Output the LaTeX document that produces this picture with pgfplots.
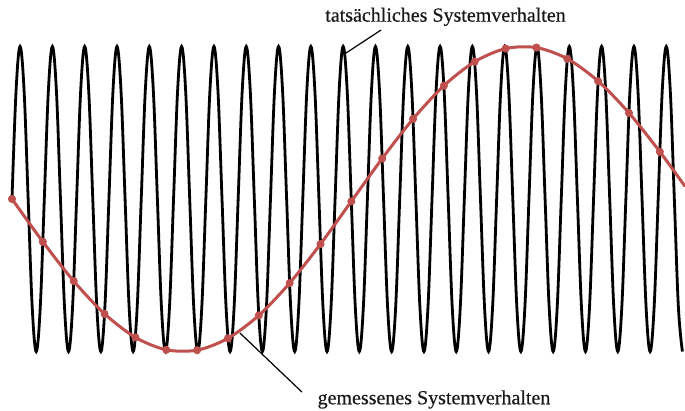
\documentclass[border=0pt]{standalone}
\usepackage{fontspec}
\setmainfont{Liberation Serif}
\newfontfamily\labfont{Liberation Serif}[FakeBold=0.4]
\usepackage{pgfplots}
\pgfplotsset{compat=1.18}
\definecolor{samplered}{RGB}{192,80,77}
\begin{document}
\begin{tikzpicture}
\begin{axis}[
  hide axis, scale only axis,
  width=342.5pt, height=205.5pt,
  xmin=-2.971, xmax=166.64,
  ymin=-1.390, ymax=1.305,
  clip=true,
]
\path (rel axis cs:0,0) rectangle (rel axis cs:1,1);
% actual signal (black)
\addplot[black, line width=1.4pt, smooth, tension=0.6] coordinates {
(0,0) (1,0.7071) (2,1) (3,0.7071) (4,0) (5,-0.7071) (6,-1) (7,-0.7071)
(8,0) (9,0.7071) (10,1) (11,0.7071) (12,0) (13,-0.7071) (14,-1) (15,-0.7071)
(16,0) (17,0.7071) (18,1) (19,0.7071) (20,0) (21,-0.7071) (22,-1) (23,-0.7071)
(24,0) (25,0.7071) (26,1) (27,0.7071) (28,0) (29,-0.7071) (30,-1) (31,-0.7071)
(32,0) (33,0.7071) (34,1) (35,0.7071) (36,0) (37,-0.7071) (38,-1) (39,-0.7071)
(40,0) (41,0.7071) (42,1) (43,0.7071) (44,0) (45,-0.7071) (46,-1) (47,-0.7071)
(48,0) (49,0.7071) (50,1) (51,0.7071) (52,0) (53,-0.7071) (54,-1) (55,-0.7071)
(56,0) (57,0.7071) (58,1) (59,0.7071) (60,0) (61,-0.7071) (62,-1) (63,-0.7071)
(64,0) (65,0.7071) (66,1) (67,0.7071) (68,0) (69,-0.7071) (70,-1) (71,-0.7071)
(72,0) (73,0.7071) (74,1) (75,0.7071) (76,0) (77,-0.7071) (78,-1) (79,-0.7071)
(80,0) (81,0.7071) (82,1) (83,0.7071) (84,0) (85,-0.7071) (86,-1) (87,-0.7071)
(88,0) (89,0.7071) (90,1) (91,0.7071) (92,0) (93,-0.7071) (94,-1) (95,-0.7071)
(96,0) (97,0.7071) (98,1) (99,0.7071) (100,0) (101,-0.7071) (102,-1) (103,-0.7071)
(104,0) (105,0.7071) (106,1) (107,0.7071) (108,0) (109,-0.7071) (110,-1) (111,-0.7071)
(112,0) (113,0.7071) (114,1) (115,0.7071) (116,0) (117,-0.7071) (118,-1) (119,-0.7071)
(120,0) (121,0.7071) (122,1) (123,0.7071) (124,0) (125,-0.7071) (126,-1) (127,-0.7071)
(128,0) (129,0.7071) (130,1) (131,0.7071) (132,0) (133,-0.7071) (134,-1) (135,-0.7071)
(136,0) (137,0.7071) (138,1) (139,0.7071) (140,0) (141,-0.7071) (142,-1) (143,-0.7071)
(144,0) (145,0.7071) (146,1) (147,0.7071) (148,0) (149,-0.7071) (150,-1) (151,-0.7071)
(152,0) (153,0.7071) (154,1) (155,0.7071) (156,0) (157,-0.7071) (158,-1) (159,-0.7071)
(160,0) (161,0.7071) (162,1) (163,0.7071) (164,0) (165,-0.7071) (166,-1)
};
% measured signal (red line)
\addplot[samplered, line width=1.5pt, smooth] coordinates {
(0,0) (7.64,-0.2804) (15.28,-0.5383) (22.92,-0.7531) (30.55,-0.9073)
(38.19,-0.9888) (45.83,-0.9910) (53.47,-0.9137) (61.11,-0.7631)
(68.75,-0.5514) (76.39,-0.2952) (84.02,-0.0155) (91.66,0.2655)
(99.30,0.5251) (106.94,0.7431) (114.58,0.9006) (122.22,0.9864)
(129.85,0.9929) (137.49,0.9199) (145.13,0.7729) (152.77,0.5642)
(160.41,0.3100) (166.64,0.083)
};
% samples (red dots)
\addplot[only marks, mark=*, mark size=1.8pt, color=samplered] coordinates {
(0,0) (7.64,-0.2804) (15.28,-0.5383) (22.92,-0.7531) (30.55,-0.9073)
(38.19,-0.9888) (45.83,-0.9910) (53.47,-0.9137) (61.11,-0.7631)
(68.75,-0.5514) (76.39,-0.2952) (84.02,-0.0155) (91.66,0.2655)
(99.30,0.5251) (106.94,0.7431) (114.58,0.9006) (122.22,0.9864)
(129.85,0.9929) (137.49,0.9199) (145.13,0.7729) (152.77,0.5642)
(160.41,0.3100)
};
\draw[black, line width=0.6pt] (axis cs:91.37,1.108) -- (axis cs:82.70,0.957);
\draw[black, line width=0.6pt] (axis cs:56.45,-0.879) -- (axis cs:71.80,-1.266);
\node[anchor=base, font=\labfont\fontsize{10}{12}\selectfont, text=black!90, inner sep=0pt] at (axis cs:107.34,1.163) {tatsächliches Systemverhalten};
\node[anchor=base, font=\labfont\fontsize{10}{12}\selectfont, text=black!90, inner sep=0pt] at (axis cs:104.49,-1.346) {gemessenes Systemverhalten};
\end{axis}
\end{tikzpicture}
\end{document}
